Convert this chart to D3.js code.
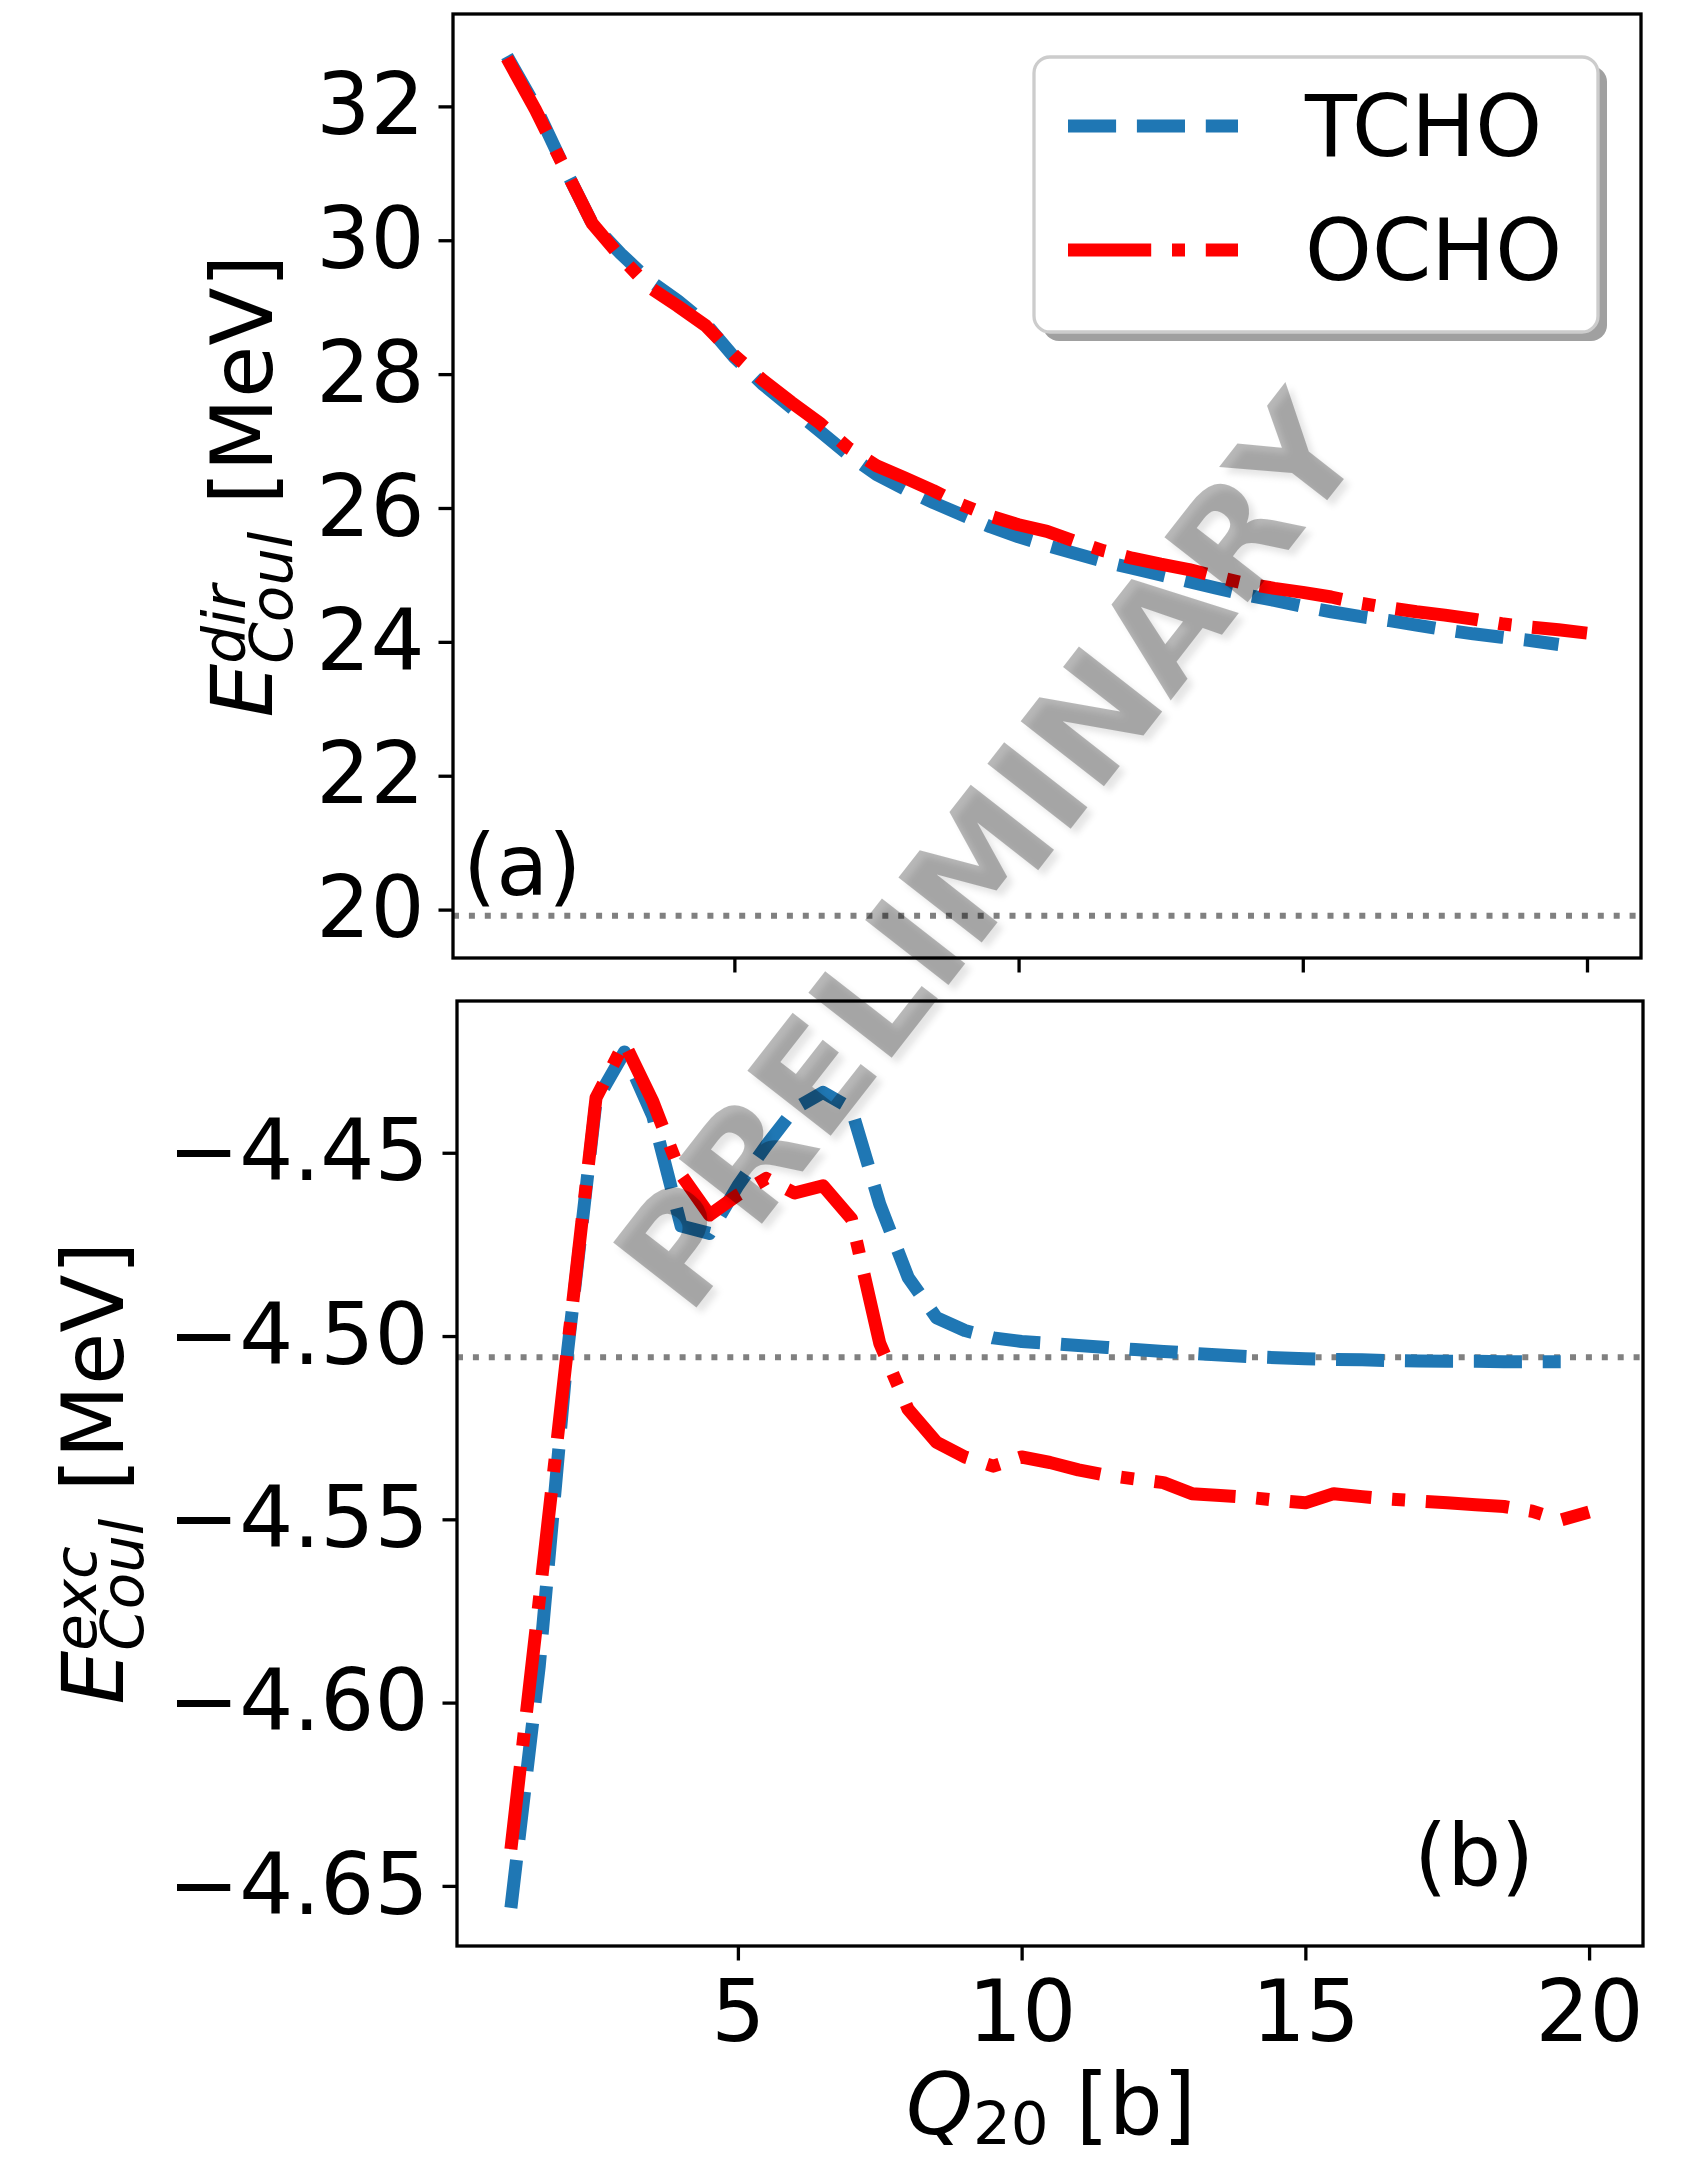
<!DOCTYPE html>
<html>
<head>
<meta charset="utf-8">
<script src="https://cdn.jsdelivr.net/npm/d3@7"></script>
<style>
body { margin: 0; background: #fff; }
text { font-family: "DejaVu Sans", sans-serif; fill: #000; }
</style>
</head>
<body>
<div id="figure"></div>
<script>
// Q20 grid [b] for each calculation
const Q_TCHO = [1, 1.5, 2, 2.5, 3, 3.5, 4, 4.5, 5, 5.5, 6, 6.5, 7, 7.5, 8, 8.5, 9, 9.5, 10, 10.5,
                11, 11.5, 12, 12.5, 13, 13.5, 14, 14.5, 15, 15.5, 16, 16.5, 17, 17.5, 18, 18.5, 19, 19.5];
const Q_OCHO = [1, 1.5, 2, 2.5, 3, 3.5, 4, 4.5, 5, 5.5, 6, 6.5, 7, 7.5, 8, 8.5, 9, 9.5, 10, 10.5,
                11, 11.5, 12, 12.5, 13, 13.5, 14, 14.5, 15, 15.5, 16, 16.5, 17, 17.5, 18, 18.5, 19, 19.5, 20];

// (a) direct Coulomb energy [MeV]
const DIR_TCHO = [32.75, 32.0, 31.1, 30.25, 29.8, 29.4, 29.1, 28.75, 28.25, 27.85, 27.5, 27.15, 26.8, 26.5,
                  26.28, 26.08, 25.9, 25.72, 25.57, 25.44, 25.32, 25.2, 25.1, 25.0, 24.9, 24.8, 24.7, 24.62,
                  24.53, 24.45, 24.38, 24.32, 24.25, 24.18, 24.12, 24.07, 24.02, 23.96];
const DIR_OCHO = [32.72, 31.95, 31.1, 30.25, 29.75, 29.3, 29.02, 28.72, 28.28, 27.91, 27.58, 27.27, 26.9, 26.63,
                  26.45, 26.26, 26.05, 25.88, 25.75, 25.65, 25.5, 25.36, 25.25, 25.16, 25.08, 24.97, 24.87, 24.8,
                  24.74, 24.67, 24.58, 24.51, 24.45, 24.4, 24.34, 24.27, 24.22, 24.18, 24.13];

// (b) exchange Coulomb energy [MeV]
const EXC_TCHO = [-4.656, -4.59, -4.504, -4.436, -4.4225, -4.44, -4.47, -4.472, -4.459, -4.448, -4.438, -4.4335,
                  -4.438, -4.464, -4.484, -4.495, -4.4985, -4.5005, -4.5015, -4.502, -4.5026, -4.5031, -4.5037,
                  -4.5042, -4.5047, -4.5052, -4.5056, -4.5059, -4.5062, -4.5064, -4.5065, -4.5067, -4.5068,
                  -4.5069, -4.5069, -4.507, -4.507, -4.507];
const EXC_OCHO = [-4.64, -4.572, -4.503, -4.435, -4.42, -4.436, -4.456, -4.467, -4.4615, -4.457, -4.461, -4.459,
                  -4.468, -4.502, -4.52, -4.529, -4.533, -4.5355, -4.533, -4.5345, -4.5365, -4.538, -4.539,
                  -4.54, -4.543, -4.5435, -4.544, -4.5448, -4.5455, -4.543, -4.5438, -4.5445, -4.545, -4.5455,
                  -4.546, -4.5465, -4.5478, -4.5502, -4.548];

// dotted reference levels
const DIR_REF = 19.91;
const EXC_REF = -4.5058;

const X_TICKS = [5, 10, 15, 20];
const DIR_TICKS = [20, 22, 24, 26, 28, 30, 32];
const EXC_TICKS = [-4.65, -4.60, -4.55, -4.50, -4.45];
const LABELS = ["TCHO", "OCHO"];

// figure size and styling
const FRAME_WIDTH = 1681;
const FRAME_HEIGHT = 2158;
const FONT = 85;
const SMALL = 59.5;
const LW = 13;
const AXIS_LW = 3.3;
const TICK_LEN = 14.5;
const COLORS = {TCHO: "#1f77b4", OCHO: "#ff0000"};
const DASHES = {TCHO: [3.7 * LW, 1.6 * LW].join(" "),
                OCHO: [6.4 * LW, 1.6 * LW, 1 * LW, 1.6 * LW].join(" ")};

const BOX_A = {left: 453, right: 1641, top: 14, bottom: 958};
const BOX_B = {left: 457, right: 1643, top: 1001, bottom: 1946};

const svg = d3.select("#figure")
              .append("svg")
                .attr("width", FRAME_WIDTH)
                .attr("height", FRAME_HEIGHT);

const minus = (s) => s.replace("-", "\u2212");

// one panel: reference line, two curves, frame, axes
function drawPanel(box, yDomain, yTicks, yFormat, qs, vals, ref, xLabels) {
    const x = d3.scaleLinear().domain([0.05, 20.95]).range([box.left, box.right]);
    const y = d3.scaleLinear().domain(yDomain).range([box.bottom, box.top]);

    svg.append("line")
        .attr("x1", box.left).attr("x2", box.right)
        .attr("y1", y(ref)).attr("y2", y(ref))
        .attr("stroke", "#808080")
        .attr("stroke-width", 6)
        .attr("stroke-dasharray", "6 9.9");

    LABELS.forEach((name, i) => {
        const pts = qs[i].map((q, j) => [q, vals[i][j]]);
        svg.append("path")
            .datum(pts)
            .attr("fill", "none")
            .attr("stroke", COLORS[name])
            .attr("stroke-width", LW)
            .attr("stroke-linejoin", "round")
            .attr("stroke-dasharray", DASHES[name])
            .attr("d", d3.line().x(d => x(d[0])).y(d => y(d[1])));
    });

    svg.append("rect")
        .attr("x", box.left).attr("y", box.top)
        .attr("width", box.right - box.left).attr("height", box.bottom - box.top)
        .attr("fill", "none")
        .attr("stroke", "#000")
        .attr("stroke-width", AXIS_LW);

    const gy = svg.append("g")
        .attr("transform", "translate(" + box.left + ",0)")
        .call(d3.axisLeft(y).tickValues(yTicks).tickSize(TICK_LEN).tickPadding(14).tickFormat(yFormat));
    const gx = svg.append("g")
        .attr("transform", "translate(0," + box.bottom + ")")
        .call(d3.axisBottom(x).tickValues(X_TICKS).tickSize(TICK_LEN).tickPadding(20)
                .tickFormat(xLabels ? d3.format("d") : ""));
    [gy, gx].forEach(g => {
        g.select(".domain").remove();
        g.selectAll(".tick line").attr("stroke", "#000").attr("stroke-width", AXIS_LW);
        g.selectAll(".tick text").attr("font-size", FONT).attr("font-family", "DejaVu Sans");
    });
    return {x, y};
}

drawPanel(BOX_A, [19.277, 33.38], DIR_TICKS, d3.format("d"),
          [Q_TCHO, Q_OCHO], [DIR_TCHO, DIR_OCHO], DIR_REF, false);
drawPanel(BOX_B, [-4.6664, -4.4086], EXC_TICKS, (d) => minus(d3.format(".2f")(d)),
          [Q_TCHO, Q_OCHO], [EXC_TCHO, EXC_OCHO], EXC_REF, true);

// mathtext-like label: pieces laid along a baseline, "stack" puts a subscript under the previous superscript
function mathLabel(g, parts) {
    let pos = 0, prevStart = 0;
    const nodes = [];
    parts.forEach(p => {
        const start = p.stack ? prevStart : pos;
        const t = g.append("text")
            .attr("x", start).attr("y", p.dy || 0)
            .attr("font-size", p.size)
            .attr("font-style", p.italic ? "italic" : "normal")
            .text(p.t);
        pos = Math.max(pos, start + t.node().getComputedTextLength());
        prevStart = start;
        nodes.push(t);
    });
    nodes.forEach(n => n.attr("x", +n.attr("x") - pos / 2));
}

mathLabel(svg.append("g").attr("transform", "translate(272,486) rotate(-90)"), [
    {t: "E", size: FONT, italic: true},
    {t: "dir", size: SMALL, italic: true, dy: -27},
    {t: "Coul", size: SMALL, italic: true, dy: 20, stack: true},
    {t: "\u00a0[MeV]", size: FONT}
]);
mathLabel(svg.append("g").attr("transform", "translate(123,1473) rotate(-90)"), [
    {t: "E", size: FONT, italic: true},
    {t: "exc", size: SMALL, italic: true, dy: -27},
    {t: "Coul", size: SMALL, italic: true, dy: 20, stack: true},
    {t: "\u00a0[MeV]", size: FONT}
]);
mathLabel(svg.append("g").attr("transform", "translate(1051,2134)"), [
    {t: "Q", size: FONT, italic: true},
    {t: "20", size: SMALL, dy: 10},
    {t: "\u00a0[b]", size: FONT}
]);

// panel tags
svg.append("text").attr("x", 463).attr("y", 895).attr("font-size", FONT).text("(a)");
svg.append("text").attr("x", 1414).attr("y", 1885).attr("font-size", FONT).text("(b)");

// legend
const LEG = {x: 1034, y: 57, w: 564, h: 275};
svg.append("rect")
    .attr("x", LEG.x + 9).attr("y", LEG.y + 9).attr("width", LEG.w).attr("height", LEG.h)
    .attr("rx", 16).attr("fill", "#a0a0a0");
svg.append("rect")
    .attr("x", LEG.x).attr("y", LEG.y).attr("width", LEG.w).attr("height", LEG.h)
    .attr("rx", 16).attr("fill", "#fff")
    .attr("stroke", "#cccccc").attr("stroke-width", AXIS_LW);
LABELS.forEach((name, i) => {
    const cy = 126 + i * 124;
    svg.append("line")
        .attr("x1", 1068).attr("x2", 1238).attr("y1", cy).attr("y2", cy)
        .attr("stroke", COLORS[name]).attr("stroke-width", LW)
        .attr("stroke-dasharray", DASHES[name]);
    svg.append("text")
        .attr("x", 1305).attr("y", cy + 30)
        .attr("font-size", FONT)
        .text(name);
});

// watermark on top of everything
const defs = svg.append("defs");
defs.append("filter").attr("id", "soft")
    .append("feGaussianBlur").attr("stdDeviation", 3);
[[993, 857, 0.10, true], [987, 851, 0.28, false]].forEach(([cx, cy, op, blur]) => {
    svg.append("text")
        .attr("transform", "translate(" + cx + "," + cy + ") rotate(-52)")
        .attr("text-anchor", "middle")
        .attr("dy", "0.36em")
        .attr("font-size", 145)
        .attr("font-weight", "bold")
        .attr("fill-opacity", op)
        .attr("filter", blur ? "url(#soft)" : null)
        .text("PRELIMINARY");
});
</script>
</body>
</html>
